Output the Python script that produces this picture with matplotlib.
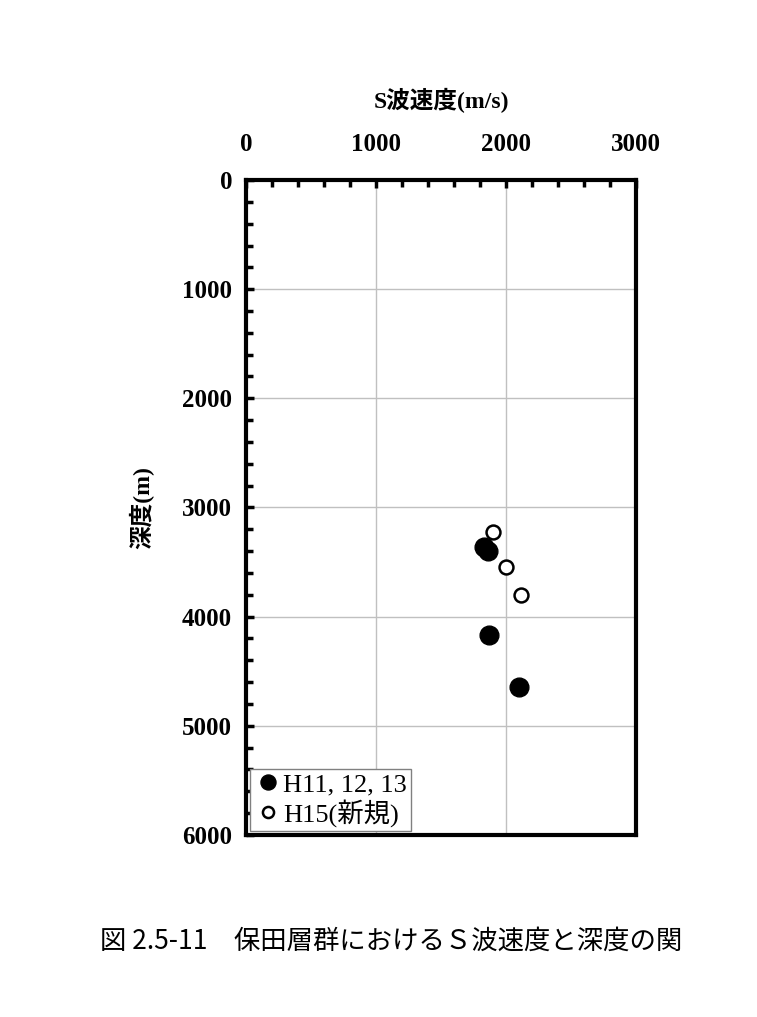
import matplotlib
matplotlib.use("Agg")
import matplotlib.pyplot as plt
from matplotlib.ticker import MultipleLocator

# S-wave velocity (m/s) vs depth (m)
vs_old = [1831, 1862, 1869, 2100]
depth_old = [3362, 3398, 4168, 4644]
vs_new = [1898, 2003, 2113]
depth_new = [3227, 3542, 3801]

label_old = "H11, 12, 13"
label_new = "H15(新規)"
caption = "図 2.5-11　保田層群におけるＳ波速度と深度の関"

serif = ["Liberation Serif", "Noto Sans CJK JP"]

fig = plt.figure(figsize=(7.57, 10.17), dpi=100)
ax = fig.add_axes([0.325, 0.179, 0.515, 0.644])

ax.plot(vs_old, depth_old, "o", color="black", markersize=13.5, label=label_old, zorder=3)
ax.plot(vs_new, depth_new, "o", markerfacecolor="white", markeredgecolor="black",
        markeredgewidth=1.8, markersize=10, label=label_new, zorder=3)

ax.set_xlim(0, 3000)
ax.set_ylim(6000, 0)
ax.xaxis.set_major_locator(MultipleLocator(1000))
ax.xaxis.set_minor_locator(MultipleLocator(200))
ax.yaxis.set_major_locator(MultipleLocator(1000))
ax.yaxis.set_minor_locator(MultipleLocator(200))
ax.xaxis.tick_top()
ax.xaxis.set_label_position("top")
ax.tick_params(axis="both", which="major", direction="in", length=6, width=2.5)
ax.tick_params(axis="x", which="major", pad=17)
ax.tick_params(axis="y", which="major", pad=10)
ax.tick_params(axis="both", which="minor", direction="in", length=5, width=2.5)
ax.tick_params(axis="x", which="both", bottom=False, top=True)
ax.tick_params(axis="y", which="both", right=False, left=True)
ax.grid(True, which="major", color="#c0c0c0", linewidth=1)
ax.set_axisbelow(True)
for sp in ax.spines.values():
    sp.set_linewidth(3)

for lab in ax.get_xticklabels() + ax.get_yticklabels():
    lab.set_fontfamily(serif)
    lab.set_fontweight("bold")
    lab.set_fontsize(18)

ax.set_xlabel("S波速度(m/s)", family=serif, fontweight="bold", fontsize=17, labelpad=18)
ax.set_ylabel("深度(m)", family=serif, fontweight="bold", fontsize=17, labelpad=20)

leg = ax.legend(loc="lower left", bbox_to_anchor=(0.0, 0.0), borderaxespad=0.15,
                handletextpad=0.0, handlelength=1.1, borderpad=0.15, labelspacing=0.1,
                fancybox=False, framealpha=1, edgecolor="#808080", markerscale=0.8,
                prop={"family": serif, "size": 19})
leg.get_frame().set_linewidth(1)

fig.text(0.517, 0.075, caption, ha="center", va="center", fontsize=19,
         family=["Noto Sans CJK JP", "DejaVu Sans"])

fig.savefig("out.png", dpi=100, facecolor="white")
